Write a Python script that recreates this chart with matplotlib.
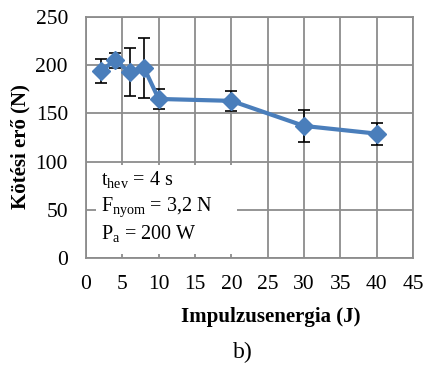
import matplotlib
matplotlib.use("Agg")
import matplotlib.pyplot as plt

energy = [2, 4, 6, 8, 10, 20, 30, 40]
force = [194, 205, 193, 197, 165, 163, 137, 129]
err = [12, 8, 25, 31, 10, 10, 17, 11.5]
xticks = [0, 5, 10, 15, 20, 25, 30, 35, 40, 45]
yticks = [0, 50, 100, 150, 200, 250]

plt.rcParams['font.family'] = ['Liberation Serif']
plt.rcParams['mathtext.fontset'] = 'custom'
plt.rcParams['mathtext.rm'] = 'Liberation Serif'

W, H = 427, 365
fig = plt.figure(figsize=(W/100, H/100), dpi=100)
ax = fig.add_axes([86/W, 1-258/H, (413-86)/W, (258-17)/H])
ax.set_xlim(0, 45)
ax.set_ylim(0, 250)
ax.set_xticks(xticks)
ax.set_yticks(yticks)
ax.grid(True, color='#8c8c8c', linewidth=1.3)
ax.set_axisbelow(True)
for s in ax.spines.values():
    s.set_color('#8c8c8c')
    s.set_linewidth(1.3)
ax.tick_params(axis='y', length=0, labelsize=15.5, pad=13)
ax.tick_params(axis='x', length=0, labelsize=15.5, pad=12)

ax.errorbar(energy, force, yerr=err, color='#4a7ebb', linewidth=3, marker='D',
            markersize=9, ecolor='black', elinewidth=1.2, capsize=4.5, capthick=1.2, zorder=3)

box = plt.Rectangle((96/100, (H-254)/100), 141/100, 89/100, transform=fig.dpi_scale_trans,
                    facecolor='white', edgecolor='none', zorder=2.5)
fig.add_artist(box)

fs = 14.5
fig.text(101/W, 1-180/H, r'$\mathregular{t_{hev}}$ = 4 s', fontsize=fs, va='center')
fig.text(101/W, 1-207/H, r'$\mathregular{F_{nyom}}$ = 3,2 N', fontsize=fs, va='center')
fig.text(101/W, 1-234/H, r'$\mathregular{P_{a}}$ = 200 W', fontsize=fs, va='center')

fig.text(271/W, 1-317/H, 'Impulzusenergia (J)', fontsize=15, fontweight='bold', ha='center', va='center')
fig.text(20/W, 1-147/H, 'Kötési erő (N)', fontsize=15, fontweight='bold', ha='center', va='center', rotation=90)
fig.text(243/W, 1-352/H, 'b)', fontsize=17, ha='center', va='center')

fig.savefig('out.png', dpi=100)
